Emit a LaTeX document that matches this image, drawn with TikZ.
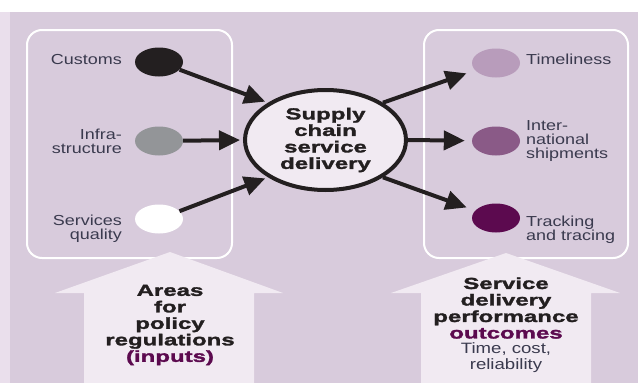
\documentclass[tikz,border=0pt]{standalone}
\usepackage{fontspec}
\setmainfont{Liberation Sans}[FakeStretch=1.24]
\newfontfamily\heavy{Liberation Sans Bold}[FakeStretch=1.5,FakeBold=1.8]
\usetikzlibrary{arrows.meta,shapes.geometric}
\definecolor{bgcol}{RGB}{216,203,220}
\definecolor{stripcol}{RGB}{234,223,236}
\definecolor{lightfill}{RGB}{241,234,242}
\definecolor{txt}{RGB}{58,58,78}
\definecolor{dark}{RGB}{35,31,32}
\definecolor{greydot}{RGB}{147,149,152}
\definecolor{lilac}{RGB}{184,156,187}
\definecolor{mauve}{RGB}{138,90,135}
\definecolor{plum}{RGB}{92,10,79}
\begin{document}
\begin{tikzpicture}[x=1pt,y=-1pt,
  dot/.style={ellipse,minimum width=48pt,minimum height=29pt,inner sep=0pt},
  lab/.style={inner sep=0pt,text=txt,font=\fontsize{14.5}{14}\selectfont},
  bold/.style={inner sep=0pt,text=dark,align=center,font=\heavy\fontsize{16}{16.5}\selectfont},
  arr/.style={draw=dark,line width=4pt,-{Triangle[length=21pt,width=19pt]}},
  panel/.style={draw=white,line width=2pt,rounded corners=15pt},
  bigarrow/.style={fill=lightfill}]
\useasboundingbox (0,0) rectangle (638,383);
\fill[white] (0,0) rectangle (638,383);
\fill[stripcol] (0,12) rectangle (10,383);
\fill[bgcol] (10,12) rectangle (638,383);
% panels
\draw[panel] (27,30) rectangle (232,258);
\draw[panel] (424,30) rectangle (628,258);
% big arrows
\fill[bigarrow] (84,383) -- (84,293) -- (55,293) -- (170,252) -- (283,293) -- (254,293) -- (254,383) -- cycle;
\fill[bigarrow] (421,383) -- (421,293) -- (391,293) -- (506,253) -- (620,293) -- (591,293) -- (591,383) -- cycle;
% dots
\node[dot,fill=dark] (cust) at (159,62) {};
\node[dot,fill=greydot] (infra) at (159,141) {};
\node[dot,fill=white] (serv) at (159,219) {};
\node[dot,fill=lilac] (tim) at (496,63) {};
\node[dot,fill=mauve] (intl) at (496,141) {};
\node[dot,fill=plum] (track) at (496,218) {};
% centre
\node[ellipse,draw=dark,line width=4pt,fill=lightfill,minimum width=161pt,minimum height=100pt,inner sep=0pt] (scd) at (325.5,140) {};
\node[bold] (scdtext) at (325.5,140) {Supply\\chain\\service\\delivery};
% arrows
\draw[arr,shorten >=3pt] (cust) -- (scd.147);
\draw[arr,shorten >=3pt] (infra) -- (scd.180);
\draw[arr,shorten >=3pt] (serv) -- (scd.213);
\draw[arr,shorten >=9pt] (scd.33) -- (tim);
\draw[arr,shorten >=7pt] (scd.0) -- (intl);
\draw[arr,shorten >=9pt] (scd.-33) -- (track);
% labels
\node[lab,anchor=east] (custl) at (122,60) {Customs};
\node[lab,anchor=east,align=right] (infral) at (122,141) {Infra-\\structure};
\node[lab,anchor=east,align=right] (servl) at (122,229) {Services\\quality};
\node[lab,anchor=west] (timl) at (526,59) {Timeliness};
\node[lab,anchor=west,align=left] (intll) at (526,141) {Inter-\\national\\shipments};
\node[lab,anchor=west,align=left] (trackl) at (526,230) {Tracking\\and tracing};
% bottom texts
\node[bold] (inputs) at (170,325) {Areas\\for\\policy\\regulations\\\textcolor{plum}{(inputs)}};
\node[bold] (outcomes) at (506,325) {Service\\delivery\\performance\\\textcolor{plum}{outcomes}\\[-1pt]{\normalfont\fontsize{15}{15}\selectfont\color{txt}Time, cost,}\\[-1pt]{\normalfont\fontsize{15}{15}\selectfont\color{txt}reliability}};
\end{tikzpicture}
\end{document}
